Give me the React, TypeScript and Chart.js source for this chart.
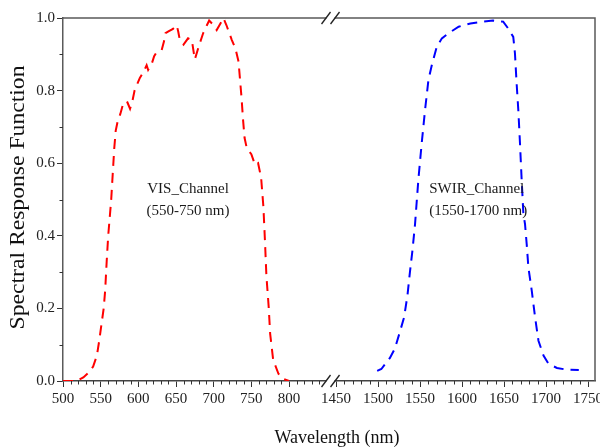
import React, { useEffect, useRef } from 'react';
import { Chart, registerables } from 'chart.js';

Chart.register(...registerables);

// ---- data (wavelength in nm, normalised spectral response) ----
const VIS_WAVELENGTH = [
  500, 510, 518, 527, 535, 540, 545, 548, 551, 554, 556, 558, 560, 562, 564, 566, 568, 570, 573, 576,
  580, 585, 589, 592, 595, 598, 602, 607, 611, 613, 618, 621, 624, 631, 634, 636, 640, 646, 651, 653,
  655, 660, 666, 671, 673, 675, 680, 686, 691, 694, 700, 704, 709, 713, 717, 724, 729, 733, 735, 737,
  739, 741, 744, 750, 755, 759, 763, 766, 768, 770, 773, 775, 779, 786, 792, 800,
];
const VIS_RESPONSE = [
  0, 0, 0, 0.01, 0.025, 0.04, 0.07, 0.11, 0.155, 0.2, 0.25, 0.33, 0.4, 0.45, 0.5, 0.57, 0.64, 0.69, 0.72, 0.735,
  0.765, 0.77, 0.75, 0.77, 0.8, 0.815, 0.835, 0.852, 0.87, 0.857, 0.875, 0.895, 0.905, 0.912, 0.935, 0.958, 0.963, 0.97, 0.98, 0.962,
  0.94, 0.927, 0.944, 0.94, 0.912, 0.886, 0.92, 0.958, 0.98, 0.993, 0.98, 0.967, 0.985, 1.0, 0.98, 0.94, 0.915, 0.88, 0.83, 0.78,
  0.72, 0.67, 0.641, 0.625, 0.595, 0.6, 0.56, 0.48, 0.39, 0.29, 0.205, 0.13, 0.058, 0.02, 0.006, 0,
];
const SWIR_WAVELENGTH = [
  1499, 1504, 1514, 1520, 1526, 1531, 1535, 1538, 1541, 1544, 1548, 1552, 1556, 1560, 1564, 1570, 1576, 1584, 1596, 1610,
  1625, 1637, 1649, 1655, 1661, 1663, 1665, 1667, 1669, 1671, 1673, 1675, 1677, 1679, 1683, 1687, 1691, 1697, 1703, 1713,
  1725, 1739,
];
const SWIR_RESPONSE = [
  0.028, 0.033, 0.063, 0.089, 0.135, 0.175, 0.235, 0.3, 0.36, 0.43, 0.554, 0.655, 0.747, 0.829, 0.87, 0.921, 0.944, 0.958, 0.976, 0.985,
  0.99, 0.993, 0.99, 0.971, 0.948, 0.903, 0.82, 0.747, 0.655, 0.554, 0.462, 0.432, 0.377, 0.313, 0.249, 0.175, 0.111, 0.07, 0.047, 0.036,
  0.031, 0.03,
];
const X_TICK_LABELS = [500, 550, 600, 650, 700, 750, 800, 1450, 1500, 1550, 1600, 1650, 1700, 1750];
const X_MINOR_LEFT = [510, 520, 530, 540, 560, 570, 580, 590, 610, 620, 630, 640, 660, 670, 680, 690, 710, 720, 730, 740, 760, 770, 780, 790, 810, 820, 830, 840];
const X_MINOR_RIGHT = [1460, 1470, 1480, 1490, 1510, 1520, 1530, 1540, 1560, 1570, 1580, 1590, 1610, 1620, 1630, 1640, 1660, 1670, 1680, 1690, 1710, 1720, 1730, 1740];
const Y_MINOR = [0.1, 0.3, 0.5, 0.7, 0.9];
const CHANNEL_NOTES = [
  { lines: ['VIS_Channel', '(550-750 nm)'], wl: 666, y: 0.53, align: 'center' },
  { lines: ['SWIR_Channel', '(1550-1700 nm)'], wl: 1561, y: 0.53, align: 'left' },
];
const X_TITLE = 'Wavelength (nm)';
const Y_TITLE = 'Spectral Response Function';

// ---- broken-axis mapping (wavelength -> continuous axis coordinate) ----
const LEFT_START = 500;
const LEFT_RATE = 0.7533;
const RIGHT_ANCHOR = 1450;
const RIGHT_ANCHOR_POS = 273;
const RIGHT_RATE = 0.84;
const BREAK_POS = 267.5;
const AXIS_END_WL = 1758.3;

function toAxis(wl: number): number {
  return wl < 1100 ? (wl - LEFT_START) * LEFT_RATE : RIGHT_ANCHOR_POS + (wl - RIGHT_ANCHOR) * RIGHT_RATE;
}

const SERIF = '"Liberation Serif", "Times New Roman", serif';

const decorPlugin = {
  id: 'decor',
  afterDraw(chart: any) {
    const { ctx, chartArea, scales } = chart;
    const { left, right, top, bottom } = chartArea;
    const xs = scales.x;
    const ys = scales.y;
    ctx.save();
    // frame top + right
    ctx.strokeStyle = '#5a5a5a';
    ctx.lineWidth = 1.5;
    ctx.beginPath();
    ctx.moveTo(left, top);
    ctx.lineTo(right, top);
    ctx.lineTo(right, bottom);
    ctx.stroke();

    // minor ticks
    ctx.strokeStyle = '#333';
    ctx.lineWidth = 1;
    ctx.beginPath();
    for (const wl of [...X_MINOR_LEFT, ...X_MINOR_RIGHT]) {
      const px = Math.round(xs.getPixelForValue(toAxis(wl))) + 0.5;
      ctx.moveTo(px, bottom);
      ctx.lineTo(px, bottom + 3.5);
    }
    for (const v of Y_MINOR) {
      const py = Math.round(ys.getPixelForValue(v)) + 0.5;
      ctx.moveTo(left, py);
      ctx.lineTo(left - 3.5, py);
    }
    ctx.stroke();

    // axis break marks
    const bx = xs.getPixelForValue(BREAK_POS);
    for (const yy of [top, bottom]) {
      ctx.fillStyle = '#ffffff';
      ctx.fillRect(bx - 4, yy - 1.5, 8, 3);
      ctx.strokeStyle = '#222';
      ctx.lineWidth = 1.3;
      for (const dx of [-4.5, 4.5]) {
        ctx.beginPath();
        ctx.moveTo(bx + dx - 4.5, yy + 6);
        ctx.lineTo(bx + dx + 4.5, yy - 6);
        ctx.stroke();
      }
    }

    // channel notes
    ctx.fillStyle = '#1a1a1a';
    ctx.font = `15px ${SERIF}`;
    ctx.textBaseline = 'middle';
    for (const n of CHANNEL_NOTES) {
      ctx.textAlign = n.align as CanvasTextAlign;
      const px = xs.getPixelForValue(toAxis(n.wl));
      const py = ys.getPixelForValue(n.y);
      n.lines.forEach((t, i) => ctx.fillText(t, px, py + i * 22));
    }

    // axis titles
    ctx.fillStyle = '#111';
    ctx.font = `18px ${SERIF}`;
    ctx.textAlign = 'center';
    ctx.textBaseline = 'middle';
    ctx.fillText(X_TITLE, (left + right) / 2 + 8, 438);

    ctx.save();
    ctx.translate(19, (top + bottom) / 2 - 2);
    ctx.rotate(-Math.PI / 2);
    ctx.font = `20px ${SERIF}`;
    const w = ctx.measureText(Y_TITLE).width;
    ctx.scale(264 / w, 1);
    ctx.fillText(Y_TITLE, 0, 0);
    ctx.restore();

    ctx.restore();
  },
};

export default function App() {
  const ref = useRef<HTMLCanvasElement | null>(null);

  useEffect(() => {
    if (!ref.current) return;
    const chart = new Chart(ref.current, {
      type: 'line',
      data: {
        datasets: [
          {
            label: 'VIS_Channel',
            data: VIS_WAVELENGTH.map((wl, i) => ({ x: toAxis(wl), y: VIS_RESPONSE[i] })),
            borderColor: '#ff0000',
            borderWidth: 2,
            borderDash: [10, 7],
            pointRadius: 0,
            tension: 0,
            fill: false,
          },
          {
            label: 'SWIR_Channel',
            data: SWIR_WAVELENGTH.map((wl, i) => ({ x: toAxis(wl), y: SWIR_RESPONSE[i] })),
            borderColor: '#0000ff',
            borderWidth: 2,
            borderDash: [10, 7],
            pointRadius: 0,
            tension: 0,
            fill: false,
          },
        ],
      },
      options: {
        animation: false,
        responsive: false,
        devicePixelRatio: 1,
        layout: { padding: { top: 18, right: 5, left: 0, bottom: 0 } },
        plugins: { legend: { display: false }, tooltip: { enabled: false } },
        scales: {
          x: {
            type: 'linear',
            min: 0,
            max: toAxis(AXIS_END_WL),
            afterBuildTicks: (scale: any) => {
              scale.ticks = X_TICK_LABELS.map((wl) => ({ value: toAxis(wl) }));
            },
            afterFit: (scale: any) => {
              scale.height = 67;
              scale.paddingLeft = 0;
              scale.paddingRight = 0;
            },
            ticks: {
              autoSkip: false,
              maxRotation: 0,
              padding: 3,
              color: '#222',
              font: { family: SERIF, size: 15 },
              callback: (_v: any, i: number) => String(X_TICK_LABELS[i]),
            },
            grid: { drawOnChartArea: false, tickLength: 6, tickColor: '#333', tickWidth: 1 },
            border: { display: true, color: '#444', width: 1.5 },
          },
          y: {
            min: 0,
            max: 1,
            afterFit: (scale: any) => {
              scale.width = 63;
              scale.paddingTop = 0;
              scale.paddingBottom = 0;
            },
            ticks: {
              stepSize: 0.2,
              padding: 2,
              color: '#222',
              font: { family: SERIF, size: 15 },
              callback: (v: any) => Number(v).toFixed(1),
            },
            grid: { drawOnChartArea: false, tickLength: 6, tickColor: '#333', tickWidth: 1 },
            border: { display: true, color: '#5a5a5a', width: 1.5 },
          },
        },
      },
      plugins: [decorPlugin],
    });
    return () => chart.destroy();
  }, []);

  return (
    <div style={{ position: 'absolute', left: 0, top: 0, width: 600, height: 448, background: '#fff' }}>
      <canvas ref={ref} width={600} height={448} style={{ display: 'block' }} />
    </div>
  );
}
